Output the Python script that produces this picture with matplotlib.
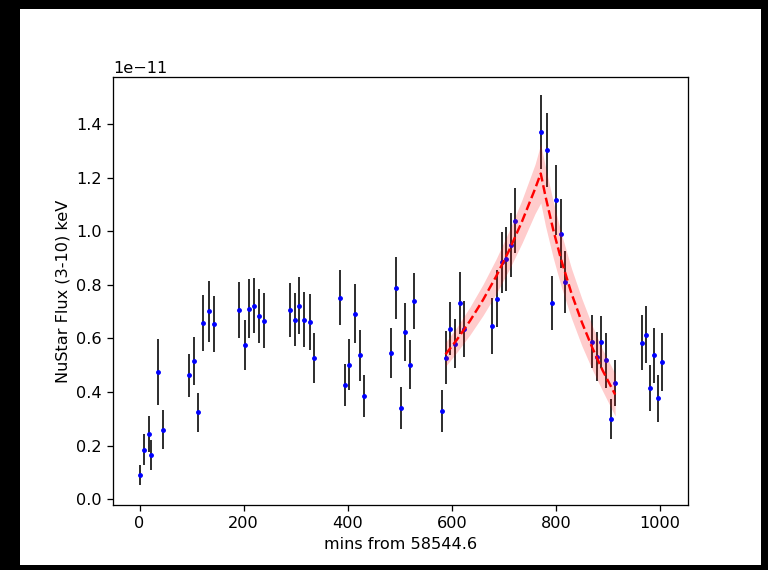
import matplotlib
matplotlib.use("Agg")
import matplotlib.pyplot as plt
from matplotlib.patches import Rectangle
import numpy as np

# Light curve data (flux in units of 1e-11)
time_min = [0, 8.3, 17.3, 22.5, 35.3, 44.3,
            95, 104, 113, 122, 133, 142.6,
            191.3, 202.3, 211.3, 220.2, 229.3, 238.3,
            289, 298, 307, 316, 327, 336,
            385.4, 394.4, 403.3, 414.3, 423.3, 432.2,
            483.6, 492.6, 501.5, 510.6, 519.6, 528,
            581.3, 588.3, 597.3, 606.4, 615.2, 624.3,
            677.6, 686.5, 695.6, 704.6, 713.5, 720.6,
            771.3, 782.3, 792, 800.3, 809.2, 818.3,
            869.6, 878.6, 887.6, 896.6, 905.6, 913.9,
            964.7, 972.4, 980.7, 987.8, 996.7, 1003.3]
flux = [0.090, 0.184, 0.242, 0.163, 0.474, 0.259,
        0.462, 0.514, 0.324, 0.658, 0.701, 0.654,
        0.705, 0.575, 0.710, 0.722, 0.684, 0.666,
        0.705, 0.670, 0.722, 0.670, 0.661, 0.528,
        0.752, 0.425, 0.501, 0.692, 0.536, 0.385,
        0.545, 0.787, 0.341, 0.623, 0.502, 0.740,
        0.328, 0.528, 0.636, 0.580, 0.732, 0.636,
        0.645, 0.748, 0.883, 0.895, 0.948, 1.039,
        1.369, 1.304, 0.731, 1.117, 0.991, 0.809,
        0.588, 0.532, 0.588, 0.518, 0.298, 0.432,
        0.584, 0.614, 0.415, 0.537, 0.376, 0.511]
flux_err = [0.036, 0.058, 0.067, 0.056, 0.122, 0.073,
            0.081, 0.089, 0.073, 0.104, 0.113, 0.105,
            0.105, 0.095, 0.110, 0.102, 0.100, 0.103,
            0.102, 0.098, 0.106, 0.103, 0.104, 0.093,
            0.104, 0.078, 0.095, 0.111, 0.095, 0.078,
            0.092, 0.115, 0.078, 0.108, 0.093, 0.105,
            0.078, 0.098, 0.098, 0.092, 0.117, 0.104,
            0.104, 0.107, 0.115, 0.119, 0.121, 0.120,
            0.138, 0.138, 0.100, 0.130, 0.130, 0.116,
            0.099, 0.090, 0.097, 0.103, 0.074, 0.086,
            0.102, 0.105, 0.087, 0.103, 0.088, 0.108]

# Flare model curve and its uncertainty band (units of 1e-11)
model_t = [588, 610, 635, 660, 685, 710, 735, 760, 771,
           780, 795, 810, 830, 850, 870, 890, 914]
model_mid = [0.540, 0.595, 0.665, 0.743, 0.830, 0.927, 1.036, 1.157, 1.215,
             1.131, 1.005, 0.895, 0.768, 0.660, 0.565, 0.480, 0.390]
model_lo = [0.495, 0.548, 0.613, 0.685, 0.765, 0.855, 0.955, 1.065, 1.105,
            1.020, 0.900, 0.795, 0.675, 0.572, 0.483, 0.403, 0.310]
model_hi = [0.585, 0.642, 0.717, 0.801, 0.895, 1.000, 1.117, 1.249, 1.325,
            1.240, 1.110, 0.995, 0.861, 0.748, 0.647, 0.557, 0.468]

SCALE = 1e-11
s = 1.158  # scale factor of the embedded figure

plt.rcParams['font.family'] = ['DejaVu Sans']
plt.rcParams['font.size'] = 10 * s

W, H = 768, 570
fig = plt.figure(figsize=(W / 100, H / 100), dpi=100, facecolor='black')
fig.patches.append(Rectangle((20 / W, 5 / H), 741 / W, 556 / H,
                             transform=fig.transFigure, facecolor='white',
                             edgecolor='none', zorder=-10))

ax = fig.add_axes([113 / W, 1 - 505 / H, (688 - 113) / W, (505 - 77) / H])

t = np.array(time_min)
f = np.array(flux) * SCALE
e = np.array(flux_err) * SCALE
ax.errorbar(t, f, yerr=e, fmt='.', color='blue', ecolor='black',
            elinewidth=1.0 * s, markersize=5, capsize=0, zorder=2)

mt = np.array(model_t)
ax.fill_between(mt, np.array(model_lo) * SCALE, np.array(model_hi) * SCALE,
                color='red', alpha=0.2, linewidth=0, zorder=3)
ax.plot(mt, np.array(model_mid) * SCALE, '--', color='red', linewidth=1.5 * s,
        zorder=4)

ax.set_xlim(-51, 1054)
ax.set_ylim(-0.022 * SCALE, 1.575 * SCALE)
ax.set_xticks([0, 200, 400, 600, 800, 1000])
ax.set_yticks(np.arange(0, 1.41, 0.2) * SCALE)

for sp in ax.spines.values():
    sp.set_linewidth(0.8 * s)
ax.tick_params(length=3.5 * s, width=0.8 * s, pad=3.5 * s)

ax.set_xlabel('mins from 58544.6')
ax.set_ylabel('NuStar Flux (3-10) keV')

fig.savefig('out.png', dpi=100, facecolor='black')
